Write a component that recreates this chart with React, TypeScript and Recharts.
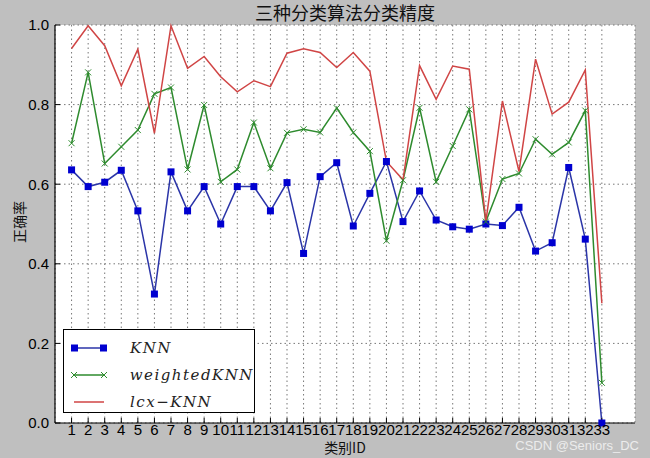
import { CartesianGrid, Legend, Line, LineChart, XAxis, YAxis } from 'recharts';

const classIds = [
  1, 2, 3, 4, 5, 6, 7, 8, 9, 10, 11, 12, 13, 14, 15, 16, 17,
  18, 19, 20, 21, 22, 23, 24, 25, 26, 27, 28, 29, 30, 31, 32, 33,
];

const knnAcc = [
  0.636, 0.594, 0.605, 0.635, 0.533, 0.324, 0.631, 0.533, 0.594, 0.5, 0.594,
  0.594, 0.533, 0.604, 0.426, 0.619, 0.654, 0.495, 0.577, 0.657, 0.506, 0.583,
  0.51, 0.493, 0.487, 0.5, 0.496, 0.542, 0.432, 0.453, 0.642, 0.462, 0.0,
];

const weightedKnnAcc = [
  0.703, 0.881, 0.652, 0.694, 0.736, 0.827, 0.843, 0.637, 0.799, 0.606, 0.637,
  0.755, 0.64, 0.729, 0.738, 0.73, 0.791, 0.73, 0.683, 0.458, 0.61, 0.792,
  0.606, 0.696, 0.788, 0.506, 0.613, 0.627, 0.713, 0.675, 0.705, 0.785, 0.101,
];

const lcxKnnAcc = [
  0.941, 0.998, 0.948, 0.847, 0.939, 0.728, 0.998, 0.891, 0.921, 0.87, 0.832,
  0.86, 0.845, 0.929, 0.94, 0.931, 0.893, 0.931, 0.884, 0.657, 0.611, 0.898,
  0.813, 0.897, 0.889, 0.506, 0.809, 0.632, 0.914, 0.776, 0.806, 0.887, 0.301,
];

const yTicks = [0, 0.2, 0.4, 0.6, 0.8, 1.0];

const BLUE_LINE = '#2b35a8';
const BLUE_MARK = '#0000d0';
const GREEN = '#2e8b2e';
const RED = '#d04545';

const data = classIds.map((id, i) => ({
  id,
  knn: knnAcc[i],
  weighted: weightedKnnAcc[i],
  lcx: lcxKnnAcc[i],
}));

const SquareDot = (props: any) => {
  const { cx, cy, index } = props;
  if (cx == null || cy == null) return <g key={index} />;
  return <rect key={index} x={cx - 3.5} y={cy - 3.5} width={7} height={7} fill={BLUE_MARK} />;
};

const CrossDot = (props: any) => {
  const { cx, cy, index } = props;
  if (cx == null || cy == null) return <g key={index} />;
  return (
    <g key={index} stroke={GREEN} strokeWidth={1}>
      <line x1={cx - 3} y1={cy - 3} x2={cx + 3} y2={cy + 3} />
      <line x1={cx - 3} y1={cy + 3} x2={cx + 3} y2={cy - 3} />
    </g>
  );
};

const legendFont = {
  fontFamily: '"DejaVu Serif", serif',
  fontStyle: 'italic',
  fontSize: 15,
  letterSpacing: 1.5,
  color: '#222',
};

const LegendBox = () => (
  <div
    style={{
      width: 192,
      height: 84,
      background: '#fff',
      border: '1px solid #000',
      boxSizing: 'border-box',
      paddingTop: 4,
    }}
  >
    {[
      { name: 'KNN', kind: 'sq', color: BLUE_LINE },
      { name: 'weightedKNN', kind: 'x', color: GREEN },
      { name: 'lcx\u2212KNN', kind: 'line', color: RED },
    ].map((item) => (
      <div key={item.name} style={{ display: 'flex', alignItems: 'center', height: 27 }}>
        <svg width={60} height={14} style={{ marginLeft: 6 }}>
          <line x1={4} y1={7} x2={34} y2={7} stroke={item.color} strokeWidth={1.5} />
          {item.kind === 'sq' && (
            <>
              <rect x={1} y={3.5} width={7} height={7} fill={BLUE_MARK} />
              <rect x={30} y={3.5} width={7} height={7} fill={BLUE_MARK} />
            </>
          )}
          {item.kind === 'x' && (
            <g stroke={GREEN} strokeWidth={1}>
              <line x1={1} y1={4} x2={7} y2={10} />
              <line x1={1} y1={10} x2={7} y2={4} />
              <line x1={31} y1={4} x2={37} y2={10} />
              <line x1={31} y1={10} x2={37} y2={4} />
            </g>
          )}
        </svg>
        <span style={legendFont}>{item.name}</span>
      </div>
    ))}
  </div>
);

const tickStyle = { fontFamily: '"Liberation Sans", Arial, sans-serif', fontSize: 15, fill: '#000' };

export default function App() {
  return (
    <div
      style={{
        position: 'fixed',
        left: 0,
        top: 0,
        width: 650,
        height: 458,
        background: '#bfbfbf',
        overflow: 'hidden',
      }}
    >
      <LineChart width={650} height={458} data={data} margin={{ top: 25, right: 15, bottom: 0, left: 0 }}>
        <CartesianGrid
          stroke="#777"
          strokeDasharray="1.5 3"
          fill="#ffffff"
          fillOpacity={1}
        />
        <XAxis
          dataKey="id"
          type="number"
          domain={[0, 35]}
          ticks={classIds}
          interval={0}
          height={35}
          tickSize={-5}
          tickMargin={6}
          tick={tickStyle}
          axisLine={{ stroke: '#000', strokeWidth: 1.2 }}
          tickLine={{ stroke: '#000' }}
        />
        <XAxis
          xAxisId="top"
          orientation="top"
          dataKey="id"
          type="number"
          domain={[0, 35]}
          ticks={classIds}
          interval={0}
          height={0}
          tickSize={-5}
          tick={false}
          axisLine={{ stroke: '#000', strokeWidth: 1.2 }}
          tickLine={{ stroke: '#000' }}
        />
        <YAxis
          domain={[0, 1]}
          ticks={yTicks}
          width={55}
          tickSize={-5}
          tickMargin={11}
          tick={tickStyle}
          tickFormatter={(v: number) => v.toFixed(1)}
          axisLine={{ stroke: '#000', strokeWidth: 1.2 }}
          tickLine={{ stroke: '#000' }}
        />
        <YAxis
          yAxisId="right"
          orientation="right"
          domain={[0, 1]}
          ticks={yTicks}
          width={0}
          tickSize={-5}
          tick={false}
          axisLine={{ stroke: '#000', strokeWidth: 1.2 }}
          tickLine={{ stroke: '#000' }}
        />
        <Legend
          layout="vertical"
          align="center"
          verticalAlign="middle"
          content={() => <LegendBox />}
          wrapperStyle={{ left: 63, top: 329, width: 192, height: 84 }}
        />
        <Line
          dataKey="knn"
          stroke={BLUE_LINE}
          strokeWidth={1.5}
          dot={SquareDot}
          activeDot={false}
          isAnimationActive={false}
        />
        <Line
          dataKey="weighted"
          stroke={GREEN}
          strokeWidth={1.5}
          dot={CrossDot}
          activeDot={false}
          isAnimationActive={false}
        />
        <Line
          dataKey="lcx"
          stroke={RED}
          strokeWidth={1.5}
          dot={false}
          activeDot={false}
          isAnimationActive={false}
        />
      </LineChart>
      <div
        style={{
          position: 'absolute',
          left: 55,
          width: 580,
          top: 0,
          textAlign: 'center',
          fontFamily: '"Noto Sans CJK SC", sans-serif',
          fontSize: 18,
          lineHeight: '24px',
          color: '#111',
        }}
      >
        三种分类算法分类精度
      </div>
      <div
        style={{
          position: 'absolute',
          left: 55,
          width: 580,
          top: 437,
          textAlign: 'center',
          fontFamily: '"Noto Sans CJK SC", sans-serif',
          fontSize: 14,
          color: '#111',
        }}
      >
        类别ID
      </div>
      <div
        style={{
          position: 'absolute',
          left: 19,
          top: 222,
          transform: 'translate(-50%, -50%) rotate(-90deg)',
          fontFamily: '"Noto Sans CJK SC", sans-serif',
          fontSize: 14,
          color: '#111',
          whiteSpace: 'nowrap',
        }}
      >
        正确率
      </div>
      <div
        style={{
          position: 'absolute',
          right: 11,
          top: 438,
          fontFamily: '"Liberation Sans", Arial, sans-serif',
          fontSize: 13,
          lineHeight: '15px',
          color: '#ececec',
        }}
      >
        CSDN @Seniors_DC
      </div>
    </div>
  );
}
